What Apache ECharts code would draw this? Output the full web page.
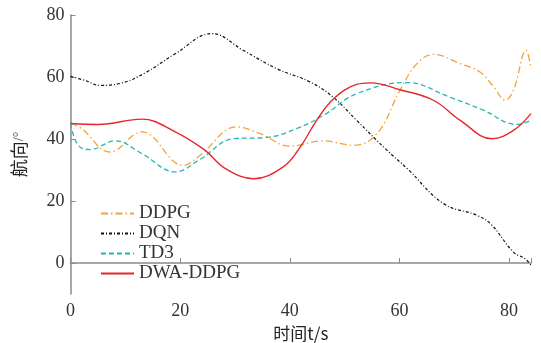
<!DOCTYPE html>
<html><head><meta charset="utf-8">
<script src="https://cdn.jsdelivr.net/npm/echarts@6/dist/echarts.min.js"></script>
<style>html,body{margin:0;padding:0;background:#fff}#c{width:541px;height:343px}</style>
</head><body><div id="c"></div>
<script>
var seriesNames = ['DDPG', 'DQN', 'TD3', 'DWA-DDPG'];
var xTickLabels = [0, 20, 40, 60, 80];
var yTickLabels = [0, 20, 40, 60, 80];

var ddpgT = [0, 2, 7.2, 13, 20.6, 23.6, 30.3, 34.6, 40, 46, 51.6, 55.9, 60.1, 63.2, 66.2, 71.1, 74.7, 77.2, 79.3, 80.8, 83.1, 84];
var ddpgV = [45, 43.4, 35.8, 42.3, 31.5, 34.7, 43.9, 41.7, 37.7, 39.4, 38, 41.7, 55.7, 64.3, 67.3, 64.3, 61.6, 56.8, 52.5, 55.7, 68.6, 62.7];

var dqnT = [0, 2.6, 5.4, 9, 13.6, 19.1, 25.8, 31.5, 37.6, 43.7, 47.9, 52.2, 57.7, 61.4, 68, 74.1, 76.6, 80.8, 82.9, 84];
var dqnV = [60.2, 58.9, 57.3, 57.9, 61.3, 67.5, 74, 68.6, 62.7, 58.4, 53.5, 46, 36.4, 30.5, 19.2, 15.4, 12.7, 3.5, 1.4, -0.7];

var td3T = [0, 1.4, 3.6, 8.1, 13, 19.1, 23.6, 29.7, 35.8, 41.3, 46.1, 52.2, 61.4, 69.2, 75.3, 81.4, 84];
var td3V = [45, 38, 36.6, 39.4, 35.3, 29.4, 33.4, 40.1, 40.5, 43.4, 47.6, 54.6, 58.2, 53.5, 49.3, 44.7, 46];

var dwaT = [0, 5.1, 13, 19.1, 24.5, 28.2, 33.4, 38.8, 41.9, 44.9, 48, 52.2, 54.7, 60.1, 66.2, 71.1, 76.9, 80.8, 84];
var dwaV = [45, 44.7, 46.4, 42.3, 36.4, 30.5, 27.2, 31, 37.4, 46, 53, 57.6, 58.1, 55.9, 52.5, 46, 40.1, 42.8, 48.2];

function pairs(t, v) { return t.map(function (x, i) { return [x, v[i]]; }); }

var colors = ['#F5A23C', '#111111', '#2AB7B2', '#E8262B'];
var dashes = [[7, 3, 1.5, 3], [3, 2, 1, 2], [5, 3], 'solid'];
var widths = [1.3, 1.2, 1.3, 1.4];
var datas = [pairs(ddpgT, ddpgV), pairs(dqnT, dqnV), pairs(td3T, td3V), pairs(dwaT, dwaV)];

var serif = '"Liberation Serif", "DejaVu Serif", serif';
var chart = echarts.init(document.getElementById('c'), null, { renderer: 'canvas' });
chart.setOption({
  animation: false,
  grid: { left: 70.5, right: 10, top: 15, bottom: 49, containLabel: false, outerBoundsMode: 'none' },
  legend: {
    orient: 'vertical', left: 100, top: 204, padding: 0,
    itemWidth: 33, itemHeight: 12, itemGap: 1,
    data: seriesNames,
    itemStyle: { opacity: 0 },
    textStyle: { fontFamily: serif, fontSize: 19, color: '#333', lineHeight: 18 }
  },
  xAxis: {
    type: 'value', min: 0, max: 84,
    name: '时间t/s', nameLocation: 'middle', nameGap: 30,
    nameTextStyle: { fontFamily: '"Noto Sans CJK SC", ' + serif, fontSize: 17, color: '#222' },
    axisLine: { lineStyle: { color: '#8a8a8a', width: 1.5 } },
    axisTick: { inside: true, length: 5, customValues: [0, 20, 40, 60, 80, 84], lineStyle: { color: '#8a8a8a' } },
    axisLabel: { customValues: xTickLabels, fontFamily: serif, fontSize: 18, color: '#333', margin: 8 },
    splitLine: { show: false }
  },
  yAxis: {
    type: 'value', min: -10, max: 80,
    name: '{a|航向}{b|/°}', nameLocation: 'middle', nameGap: 42,
    nameTextStyle: { rich: {
      a: { fontFamily: '"Noto Sans CJK SC", serif', fontSize: 18, color: '#222' },
      b: { fontFamily: serif, fontSize: 14, color: '#555' } } },
    axisLine: { show: true, lineStyle: { color: '#8a8a8a', width: 1.5 } },
    axisTick: { show: true, inside: true, length: 5, customValues: yTickLabels, lineStyle: { color: '#8a8a8a' } },
    axisLabel: { customValues: yTickLabels, fontFamily: serif, fontSize: 18, color: '#333', margin: 6 },
    splitLine: { show: false }
  },
  series: seriesNames.map(function (n, i) {
    return {
      name: n, type: 'line', data: datas[i], smooth: 0.4, symbol: 'none',
      lineStyle: { color: colors[i], width: widths[i], type: dashes[i] },
      itemStyle: { color: colors[i] }
    };
  })
});
</script>
</body></html>
